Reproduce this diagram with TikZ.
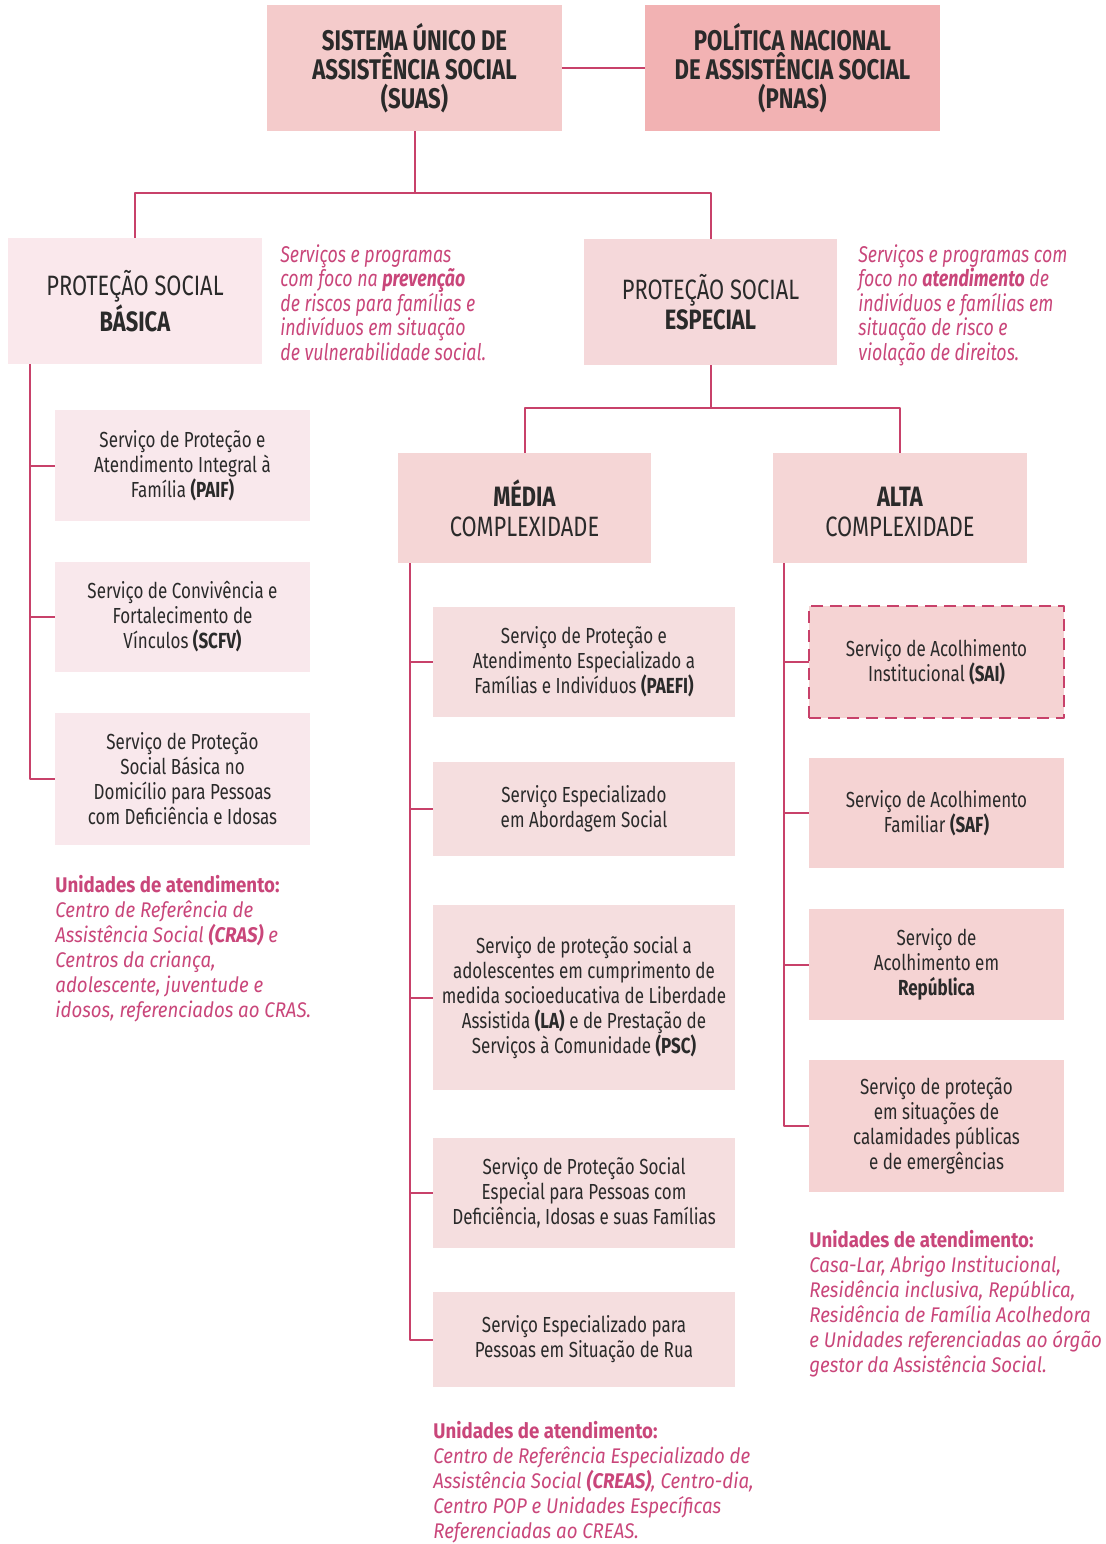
\documentclass[tikz,border=0pt]{standalone}
\usepackage{fontspec}
\setmainfont{Fira Sans}[FakeStretch=0.78]
\newfontfamily\unifont{Fira Sans}[FakeStretch=0.88]
\usetikzlibrary{positioning,calc}
\definecolor{linkpink}{HTML}{C8416A}
\definecolor{notepink}{HTML}{C9467A}
\definecolor{inktext}{HTML}{2A2A2A}
\definecolor{suasfill}{HTML}{F4CBCB}
\definecolor{pnasfill}{HTML}{F2B2B3}
\definecolor{basfill}{HTML}{FAE8EC}
\definecolor{espfill}{HTML}{F5D8DA}
\definecolor{complfill}{HTML}{F5D6D6}
\definecolor{basserv}{HTML}{F9E8EC}
\definecolor{medserv}{HTML}{F5DEDF}
\definecolor{altserv}{HTML}{F5D3D3}

\begin{document}
\begin{tikzpicture}[x=0.5pt, y=-0.5pt, line join=round,
  link/.style={draw=linkpink, line width=1pt},
  wh/.style 2 args={minimum width=#1*0.5pt, minimum height=#2*0.5pt},
  box/.style={inner sep=0pt, outer sep=0pt, align=center, text=inktext},
  topbox/.style={box, font=\bfseries\fontsize{14.2}{14.5}\selectfont},
  protbox/.style={box, font=\fontsize{14}{15}\selectfont},
  servbox/.style={box, font=\fontsize{10.9}{12.5}\selectfont},
  note/.style={inner sep=0pt, anchor=north west, align=left, text=notepink, font=\itshape\fontsize{11.4}{12.3}\selectfont},
  units/.style={inner sep=0pt, anchor=north west, align=left, text=notepink, font=\unifont\itshape\fontsize{10.6}{12.5}\selectfont}]
\useasboundingbox (0,0) rectangle (1105,1544);

% top level
\node[topbox, fill=suasfill, wh={295}{126}] (suas) at (414.5,68) {SISTEMA ÚNICO DE\\ASSISTÊNCIA SOCIAL\\(SUAS)};
\node[topbox, fill=pnasfill, wh={295}{126}] (pnas) at (792.5,68) {POLÍTICA NACIONAL\\DE ASSISTÊNCIA SOCIAL\\(PNAS)};
\draw[link] (suas) -- (pnas);

% protection levels
\node[protbox, fill=basfill, wh={254}{126}] (basica) at (135,301) {PROTEÇÃO SOCIAL\\\textbf{BÁSICA}};
\node[protbox, fill=espfill, wh={253}{126}] (especial) at (710.5,302) {PROTEÇÃO SOCIAL\\\textbf{ESPECIAL}};
\coordinate (j1) at (414.5,193);
\draw[link] (suas.south) -- (j1) -| (basica.north);
\draw[link] (j1) -| (especial.north);

\node[note] (basnote) at (280,244) {Serviços e programas\\com foco na \textbf{prevenção}\\de riscos para famílias e\\indivíduos em situação\\de vulnerabilidade social.};
\node[note] (espnote) at (858,244) {Serviços e programas com\\foco no \textbf{atendimento} de\\indivíduos e famílias em\\situação de risco e\\violação de direitos.};

% basica services
\node[servbox, fill=basserv, wh={255}{111}] (paif) at (182.5,465.5) {Serviço de Proteção e\\Atendimento Integral à\\Família \textbf{(PAIF)}};
\node[servbox, fill=basserv, wh={255}{110}] (scfv) at (182.5,617) {Serviço de Convivência e\\Fortalecimento de\\Vínculos \textbf{(SCFV)}};
\node[servbox, fill=basserv, wh={255}{132}] (domic) at (182.5,779) {Serviço de Proteção\\Social Básica no\\Domicílio para Pessoas\\com Deficiência e Idosas};
\coordinate (bv) at (30,364);
\draw[link] (bv) |- (domic.west);
\draw[link] (bv |- paif.west) -- (paif.west);
\draw[link] (bv |- scfv.west) -- (scfv.west);

\node[units] (basunits) at (55,875) {\textbf{\upshape Unidades de atendimento:}\\Centro de Referência de\\Assistência Social \textbf{(CRAS)} e\\Centros da criança,\\adolescente, juventude e\\idosos, referenciados ao CRAS.};

% complexity levels
\node[protbox, fill=complfill, wh={253}{110}] (media) at (524.5,508) {\textbf{MÉDIA}\\COMPLEXIDADE};
\node[protbox, fill=complfill, wh={254}{110}] (alta) at (900,508) {\textbf{\vphantom{É}ALTA}\\COMPLEXIDADE};
\coordinate (j2) at (710.5,408);
\draw[link] (especial.south) -- (j2) -| (media.north);
\draw[link] (j2) -| (alta.north);

% media services
\node[servbox, fill=medserv, wh={302}{110}] (paefi) at (584,662) {Serviço de Proteção e\\Atendimento Especializado a\\Famílias e Indivíduos \textbf{(PAEFI)}};
\node[servbox, fill=medserv, wh={302}{94}] (abord) at (584,809) {Serviço Especializado\\em Abordagem Social};
\node[servbox, fill=medserv, wh={302}{185}] (lapsc) at (584,997.5) {Serviço de proteção social a\\adolescentes em cumprimento de\\medida socioeducativa de Liberdade\\Assistida \textbf{(LA)} e de Prestação de\\Serviços à Comunidade \textbf{(PSC)}};
\node[servbox, fill=medserv, wh={302}{110}] (defic) at (584,1193) {Serviço de Proteção Social\\Especial para Pessoas com\\Deficiência, Idosas e suas Famílias};
\node[servbox, fill=medserv, wh={302}{95}] (rua) at (584,1339.5) {Serviço Especializado para\\Pessoas em Situação de Rua};
\coordinate (mv) at (410,563);
\draw[link] (mv) |- (rua.west);
\foreach \s in {paefi,abord,lapsc,defic}
  \draw[link] (mv |- \s.west) -- (\s.west);

\node[units] (medunits) at (433,1421) {\textbf{\upshape Unidades de atendimento:}\\Centro de Referência Especializado de\\Assistência Social \textbf{(CREAS)}, Centro-dia,\\Centro POP e Unidades Específicas\\Referenciadas ao CREAS.};

% alta services
\node[servbox, fill=altserv, wh={255}{112}, draw=linkpink, line width=1.2pt, dash pattern=on 6pt off 3.5pt] (sai) at (936.5,662) {Serviço de Acolhimento\\Institucional \textbf{(SAI)}};
\node[servbox, fill=altserv, wh={255}{110}] (saf) at (936.5,813) {Serviço de Acolhimento\\Familiar \textbf{(SAF)}};
\node[servbox, fill=altserv, wh={255}{111}] (repub) at (936.5,964.5) {Serviço de\\Acolhimento em\\\textbf{República}};
\node[servbox, fill=altserv, wh={255}{132}] (calam) at (936.5,1126) {Serviço de proteção\\em situações de\\calamidades públicas\\e de emergências};
\coordinate (av) at (784,563);
\draw[link] (av) |- (calam.west);
\foreach \s in {sai,saf,repub}
  \draw[link] (av |- \s.west) -- (\s.west);

\node[units] (altunits) at (809,1230) {\textbf{\upshape Unidades de atendimento:}\\Casa-Lar, Abrigo Institucional,\\Residência inclusiva, República,\\Residência de Família Acolhedora\\e Unidades referenciadas ao órgão\\gestor da Assistência Social.};
\end{tikzpicture}
\end{document}
